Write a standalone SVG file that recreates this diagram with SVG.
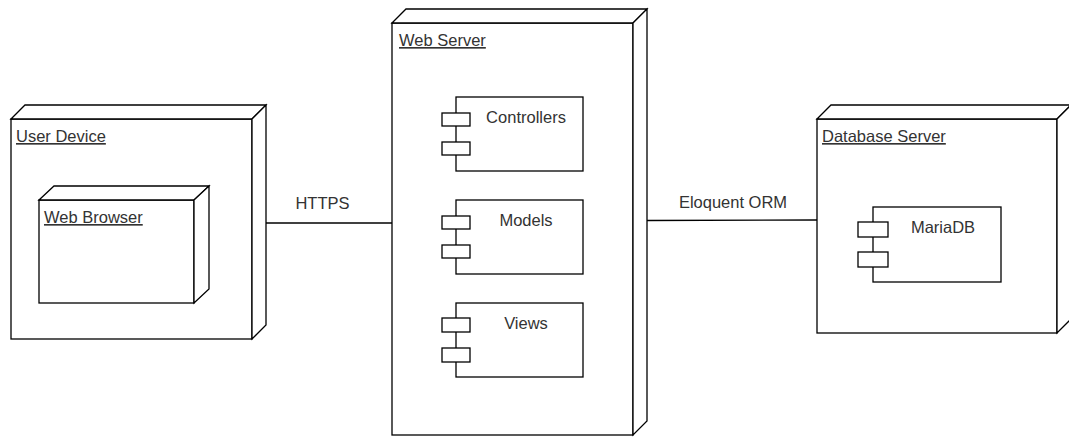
<svg xmlns="http://www.w3.org/2000/svg" width="1069" height="437" viewBox="0 0 1069 437">
<style>
.ln{fill:none;stroke:#000;stroke-width:1.3}
.bx{fill:#fff;stroke:#000;stroke-width:1.3}
.t{font-family:"Liberation Sans",Arial,sans-serif;font-size:16.5px;fill:#333}
.u{text-decoration:underline}
.c{text-anchor:middle}
</style>
<rect width="1069" height="437" fill="#fff"/>
<g id="connectors">
<line class="ln" x1="266" y1="223" x2="392" y2="223"/>
<line class="ln" x1="647" y1="220.5" x2="817" y2="220"/>
<text class="t c" x="322.5" y="209">HTTPS</text>
<text class="t c" x="733" y="208">Eloquent ORM</text>
</g>
<g id="user-device">
<rect class="bx" x="11" y="119" width="241" height="220"/>
<path class="bx" d="M11 119 L25 105 L266 105 L252 119 Z"/>
<path class="bx" d="M252 119 L266 105 L266 325 L252 339 Z"/>
<text class="t u" x="16" y="142">User Device</text>
</g>
<g id="web-browser">
<rect class="bx" x="39" y="200" width="155" height="103"/>
<path class="bx" d="M39 200 L54 186 L209 186 L194 200 Z"/>
<path class="bx" d="M194 200 L209 186 L209 289 L194 303 Z"/>
<text class="t u" x="44" y="223">Web Browser</text>
</g>
<g id="web-server">
<rect class="bx" x="392" y="23" width="241" height="412"/>
<path class="bx" d="M392 23 L406 9 L647 9 L633 23 Z"/>
<path class="bx" d="M633 23 L647 9 L647 421 L633 435 Z"/>
<text class="t u" x="399" y="46">Web Server</text>
</g>
<g id="controllers">
<rect class="bx" x="456" y="97" width="127" height="74"/>
<rect class="bx" x="442" y="113" width="28" height="13"/>
<rect class="bx" x="442" y="142" width="28" height="13"/>
<text class="t c" x="526" y="123">Controllers</text>
</g>
<g id="models">
<rect class="bx" x="456" y="200" width="127" height="74"/>
<rect class="bx" x="442" y="216" width="28" height="13"/>
<rect class="bx" x="442" y="245" width="28" height="13"/>
<text class="t c" x="526" y="226">Models</text>
</g>
<g id="views">
<rect class="bx" x="456" y="303" width="127" height="74"/>
<rect class="bx" x="442" y="318" width="28" height="14"/>
<rect class="bx" x="442" y="348" width="28" height="14"/>
<text class="t c" x="526" y="329">Views</text>
</g>
<g id="database-server">
<rect class="bx" x="817" y="119" width="240" height="214"/>
<path class="bx" d="M817 119 L831 105 L1071 105 L1057 119 Z"/>
<path class="bx" d="M1057 119 L1071 105 L1071 319 L1057 333 Z"/>
<text class="t u" x="822" y="142">Database Server</text>
</g>
<g id="mariadb">
<rect class="bx" x="873" y="207" width="128" height="75"/>
<rect class="bx" x="858" y="222" width="30" height="15"/>
<rect class="bx" x="858" y="252" width="30" height="15"/>
<text class="t c" x="943" y="233">MariaDB</text>
</g>
</svg>
